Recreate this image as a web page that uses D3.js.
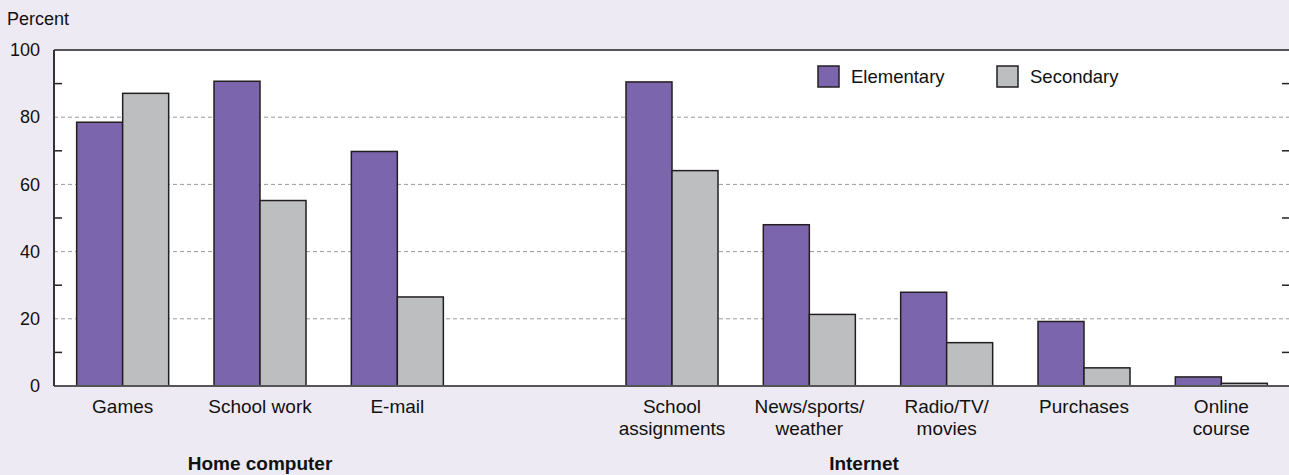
<!DOCTYPE html>
<html>
<head>
<meta charset="utf-8">
<script src="https://cdn.jsdelivr.net/npm/d3@7"></script>
<style>
  html, body { margin: 0; padding: 0; background: #EDEAF4; }
  svg { display: block; font-family: "Liberation Sans", Arial, Helvetica, sans-serif; }
</style>
</head>
<body>
<svg id="chart" width="1289" height="475"></svg>
<script>
// ---- data ----
const categories = ["Games", "School work", "E-mail", "", "School assignments", "News/sports/ weather", "Radio/TV/ movies", "Purchases", "Online course"];
const categoryLines = [["Games"], ["School work"], ["E-mail"], [], ["School", "assignments"], ["News/sports/", "weather"], ["Radio/TV/", "movies"], ["Purchases"], ["Online", "course"]];
const elementary = [78.5, 90.7, 69.8, null, 90.5, 48.0, 27.9, 19.2, 2.7];
const secondary  = [87.1, 55.2, 26.5, null, 64.1, 21.3, 12.9, 5.4, 0.8];
const seriesNames = ["Elementary", "Secondary"];
const seriesColors = ["#7B65AC", "#BDBEC0"];
const majorTicks = [0, 20, 40, 60, 80, 100];
const minorTicks = [10, 30, 50, 70, 90];
const groupLabels = ["Home computer", "Internet"];

// ---- layout ----
const svg = d3.select("#chart");
const L = 54, R = 1290, T = 50, B = 386;
const x = d3.scaleBand().domain(categories.map((c, i) => i)).range([L, R]).paddingInner(0.33).paddingOuter(0.165);
const xs = d3.scaleBand().domain([0, 1]).range([0, x.bandwidth()]);
const y = d3.scaleLinear().domain([0, 100]).range([B, T]);

// plot background
svg.append("rect").attr("x", L).attr("y", T).attr("width", R - L).attr("height", B - T).attr("fill", "#ffffff");

// gridlines
svg.append("g").selectAll("line").data(majorTicks.filter(d => d > 0 && d < 100)).join("line")
  .attr("x1", L).attr("x2", R).attr("y1", d => y(d)).attr("y2", d => y(d))
  .attr("stroke", "#9a9a9a").attr("stroke-width", 1).attr("stroke-dasharray", "4,3");

// minor ticks (left and right)
const mt = svg.append("g");
mt.selectAll("line.l").data(minorTicks).join("line").attr("class", "l")
  .attr("x1", L).attr("x2", L + 8).attr("y1", d => y(d)).attr("y2", d => y(d))
  .attr("stroke", "#222").attr("stroke-width", 1.5);
mt.selectAll("line.r").data(minorTicks).join("line").attr("class", "r")
  .attr("x1", R - 8).attr("x2", R).attr("y1", d => y(d)).attr("y2", d => y(d))
  .attr("stroke", "#222").attr("stroke-width", 1.5);

// bars
const values = [elementary, secondary];
const bars = svg.append("g");
values.forEach((vals, s) => {
  bars.selectAll("rect.s" + s).data(vals.map((v, i) => ({v, i})).filter(d => d.v !== null)).join("rect")
    .attr("class", "s" + s)
    .attr("x", d => x(d.i) + xs(s))
    .attr("y", d => y(d.v))
    .attr("width", xs.bandwidth())
    .attr("height", d => y(0) - y(d.v))
    .attr("fill", seriesColors[s])
    .attr("stroke", "#231F20").attr("stroke-width", 1.5);
});

// frame lines
svg.append("line").attr("x1", L).attr("x2", R).attr("y1", T).attr("y2", T).attr("stroke", "#555").attr("stroke-width", 2);
svg.append("line").attr("x1", L).attr("x2", R).attr("y1", B).attr("y2", B).attr("stroke", "#555").attr("stroke-width", 2);
svg.append("line").attr("x1", L).attr("x2", L).attr("y1", T).attr("y2", B).attr("stroke", "#333").attr("stroke-width", 2);

// y axis labels
const yAxis = d3.axisLeft(y).tickValues(majorTicks).tickSize(0).tickPadding(14);
const ya = svg.append("g").attr("transform", `translate(${L},0)`).call(yAxis);
ya.select(".domain").remove();
ya.selectAll("text").attr("font-size", 18).attr("fill", "#111").attr("font-family", "Liberation Sans, Arial, sans-serif");

svg.append("text").attr("x", 7).attr("y", 25).attr("font-size", 18).attr("fill", "#111").text("Percent");

// category labels
const cl = svg.append("g");
categoryLines.forEach((lines, i) => {
  const t = cl.append("text").attr("x", x(i) + x.bandwidth() / 2).attr("y", 413)
    .attr("text-anchor", "middle").attr("font-size", 19).attr("fill", "#111");
  lines.forEach((ln, k) => t.append("tspan").attr("x", x(i) + x.bandwidth() / 2).attr("dy", k === 0 ? 0 : 22).text(ln));
});

// group labels
svg.append("text").attr("x", 260).attr("y", 470).attr("text-anchor", "middle").attr("font-size", 19).attr("font-weight", "bold").attr("fill", "#111").text(groupLabels[0]);
svg.append("text").attr("x", 864).attr("y", 470).attr("text-anchor", "middle").attr("font-size", 19).attr("font-weight", "bold").attr("fill", "#111").text(groupLabels[1]);

// legend
const lg = svg.append("g");
const legX = [818, 997];
seriesNames.forEach((n, s) => {
  lg.append("rect").attr("x", legX[s]).attr("y", 66).attr("width", 21).attr("height", 21)
    .attr("fill", seriesColors[s]).attr("stroke", "#231F20").attr("stroke-width", 1.5);
  lg.append("text").attr("x", legX[s] + 33).attr("y", 83).attr("font-size", 18.5).attr("fill", "#111").text(n);
});
</script>
</body>
</html>
